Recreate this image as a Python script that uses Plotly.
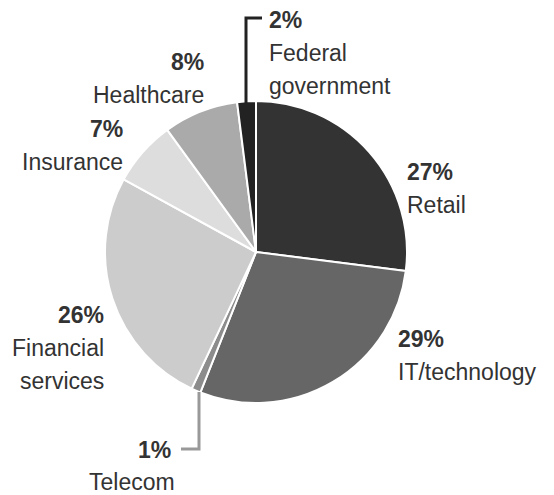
import plotly.graph_objects as go

categories = ["Retail", "IT/technology", "Telecom", "Financial services", "Insurance", "Healthcare", "Federal government"]
values = [27, 29, 1, 26, 7, 8, 2]
colors = ["#333333", "#666666", "#8c8c8c", "#cccccc", "#dddddd", "#aaaaaa", "#222222"]

W, H = 554, 495
def px(x): return x / W
def py(y): return 1 - y / H

fig = go.Figure(go.Pie(
    labels=categories, values=values, sort=False, direction="clockwise", rotation=0,
    marker=dict(colors=colors, line=dict(color="white", width=2)),
    textinfo="none", hoverinfo="label+percent", showlegend=False,
    domain=dict(x=[px(105), px(407)], y=[py(403), py(101)]),
))

FONT = "Liberation Sans, Arial, sans-serif"
TC = "#333333"
name_lines = {
    "Retail": ["Retail"],
    "IT/technology": ["IT/technology"],
    "Financial services": ["Financial", "services"],
    "Insurance": ["Insurance"],
    "Healthcare": ["Healthcare"],
    "Federal government": ["Federal", "government"],
}
positions = {
    "Retail": (405, 172, "left"),
    "IT/technology": (396, 339, "left"),
    "Financial services": (106, 315, "right"),
    "Insurance": (125, 129, "right"),
    "Healthcare": (206, 62, "right"),
    "Federal government": (267, 20, "left"),
}
ann = []
for cat, v in zip(categories, values):
    if cat == "Telecom":
        ann.append(dict(text=f"<b>{v}%</b>", x=px(173), y=py(450), xanchor="right", yanchor="middle"))
        ann.append(dict(text="Telecom", x=px(87), y=py(482), xanchor="left", yanchor="middle"))
        continue
    x, y, anc = positions[cat]
    ann.append(dict(text=f"<b>{v}%</b>", x=px(x), y=py(y), xanchor=anc, yanchor="middle"))
    for i, ln in enumerate(name_lines[cat]):
        ann.append(dict(text=ln, x=px(x), y=py(y + 33 * (i + 1)), xanchor=anc, yanchor="middle"))
for a in ann:
    a.update(xref="paper", yref="paper", showarrow=False, font=dict(family=FONT, size=23, color=TC))

shapes = [
    dict(type="path", path=f"M {px(246)} {py(103)} L {px(246)} {py(18)} L {px(262)} {py(18)}",
         line=dict(color="#222222", width=3)),
    dict(type="path", path=f"M {px(199)} {py(392)} L {px(199)} {py(449)} L {px(181)} {py(449)}",
         line=dict(color="#999999", width=3)),
]
for s in shapes:
    s.update(xref="paper", yref="paper")

fig.update_layout(width=W, height=H, margin=dict(l=0, r=0, t=0, b=0),
                  paper_bgcolor="white", plot_bgcolor="white",
                  annotations=ann, shapes=shapes)
fig.write_html("out.html")
